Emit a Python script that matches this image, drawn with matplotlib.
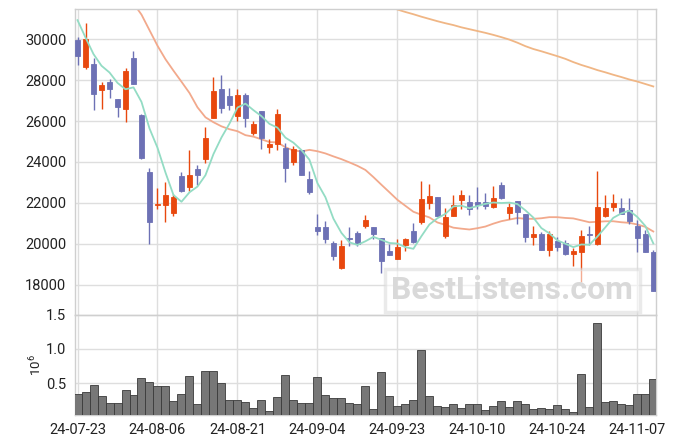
import numpy as np
import pandas as pd
import matplotlib
matplotlib.use("Agg")
import matplotlib.pyplot as plt

plt.rcParams['font.family'] = ['Roboto', 'DejaVu Sans']
plt.rcParams['mathtext.fontset'] = 'custom'
plt.rcParams['mathtext.rm'] = 'Roboto'
plt.rcParams['mathtext.it'] = 'Roboto'

# trading days (KRX), 24-07-23 .. 24-11-11
dates = pd.to_datetime([
    '2024-07-23', '2024-07-24', '2024-07-25', '2024-07-26', '2024-07-29', '2024-07-30', '2024-07-31',
    '2024-08-01', '2024-08-02', '2024-08-05', '2024-08-06', '2024-08-07', '2024-08-08', '2024-08-09',
    '2024-08-12', '2024-08-13', '2024-08-14', '2024-08-16', '2024-08-19', '2024-08-20', '2024-08-21',
    '2024-08-22', '2024-08-23', '2024-08-26', '2024-08-27', '2024-08-28', '2024-08-29', '2024-08-30',
    '2024-09-02', '2024-09-03', '2024-09-04', '2024-09-05', '2024-09-06', '2024-09-09', '2024-09-10',
    '2024-09-11', '2024-09-12', '2024-09-13', '2024-09-19', '2024-09-20', '2024-09-23', '2024-09-24',
    '2024-09-25', '2024-09-26', '2024-09-27', '2024-09-30', '2024-10-02', '2024-10-04', '2024-10-07',
    '2024-10-08', '2024-10-10', '2024-10-11', '2024-10-14', '2024-10-15', '2024-10-16', '2024-10-17',
    '2024-10-18', '2024-10-21', '2024-10-22', '2024-10-23', '2024-10-24', '2024-10-25', '2024-10-28',
    '2024-10-29', '2024-10-30', '2024-10-31', '2024-11-01', '2024-11-04', '2024-11-05', '2024-11-06',
    '2024-11-07', '2024-11-08', '2024-11-11'])

opens = [29980, 28620, 28780, 27500, 27900, 27070, 26570, 29070, 26310, 23510,
         21890, 21890, 21500, 23320, 22760, 23630, 24130, 26130, 27560, 27240,
         26230, 27270, 25400, 26490, 24720, 24860, 24680, 23980, 24590, 23170,
         20800, 20800, 20020, 18810, 20260, 20540, 20890, 20800, 20290, 19660,
         19240, 19950, 20630, 21040, 21980, 22290, 20370, 21380, 22130, 22050,
         22020, 22050, 21790, 22850, 21500, 22110, 21430, 20330, 20500, 19690,
         20110, 20020, 19500, 19590, 20460, 19970, 21350, 21790, 21770, 21640,
         20890, 20460, 19610]
highs = [30130, 30780, 29060, 27900, 28050, 27100, 28600, 29420, 26340, 23710,
         22730, 23020, 22440, 23510, 24590, 23850, 25710, 28150, 28230, 27610,
         27550, 27370, 26000, 26490, 25120, 26590, 24910, 24760, 24590, 23560,
         21460, 21120, 20150, 20180, 20800, 20620, 21420, 20830, 20290, 19970,
         20210, 20290, 21020, 23090, 22930, 22290, 21760, 22390, 22650, 22390,
         22760, 22490, 22830, 23040, 22000, 22110, 21430, 20850, 20570, 20630,
         20340, 20200, 19790, 20680, 20880, 23580, 22390, 22440, 22240, 22240,
         21170, 20650, 19710]
lows = [28730, 28540, 26540, 26590, 27120, 26200, 25950, 27790, 24130, 20000,
        21710, 21070, 21370, 22520, 22600, 22890, 23950, 26130, 26390, 26540,
        26000, 25690, 25300, 24630, 24440, 24590, 23040, 23850, 23350, 22420,
        20410, 20020, 19200, 18780, 19890, 19890, 20760, 20240, 18590, 19450,
        19240, 19660, 20050, 20960, 21720, 21380, 20290, 21350, 21720, 21420,
        21690, 21690, 21760, 22210, 21190, 20980, 20100, 19950, 19710, 19420,
        19640, 19430, 18930, 18130, 19950, 19920, 21320, 21590, 21430, 20980,
        19610, 19580, 17690]
closes = [29200, 30020, 27320, 27770, 27550, 26670, 28460, 27790, 24210, 21060,
          21950, 22390, 22290, 22570, 23370, 23350, 25170, 27460, 26620, 26760,
          27270, 26130, 25870, 25150, 24880, 26340, 23690, 24630, 23350, 22520,
          20620, 20240, 19400, 19870, 20210, 19980, 21140, 20470, 19140, 19450,
          19850, 20240, 20080, 22210, 22310, 21380, 21320, 21900, 22390, 21710,
          21890, 21850, 22240, 22260, 21810, 21550, 20330, 20460, 19710, 20500,
          19840, 19500, 19630, 20360, 20420, 21820, 21770, 21970, 21430, 21110,
          20280, 19580, 17690]
volumes = [0.338, 0.368, 0.470, 0.310, 0.206, 0.206, 0.397, 0.328, 0.574, 0.515,
           0.456, 0.456, 0.240, 0.338, 0.603, 0.191, 0.676, 0.676, 0.500, 0.255,
           0.255, 0.220, 0.132, 0.255, 0.088, 0.294, 0.618, 0.255, 0.206, 0.206,
           0.588, 0.328, 0.280, 0.280, 0.206, 0.191, 0.456, 0.118, 0.662, 0.309,
           0.162, 0.191, 0.250, 0.985, 0.309, 0.162, 0.147, 0.191, 0.132, 0.191,
           0.191, 0.103, 0.162, 0.235, 0.147, 0.235, 0.191, 0.118, 0.132, 0.118,
           0.176, 0.118, 0.074, 0.632, 0.147, 1.382, 0.220, 0.235, 0.191, 0.176,
           0.338, 0.338, 0.559]  # x 10^6

ma5 = [30930, 30080, 29270, 28700, 28371, 27863, 27551, 27646, 26933, 25636,
       24693, 23480, 22380, 22052, 22514, 22794, 23350, 24384, 25194, 25873,
       26657, 26849, 26530, 26237, 25860, 25675, 25187, 24940, 24579, 24107,
       22963, 22273, 21226, 20530, 20068, 19942, 20120, 20335, 20189, 20036,
       20010, 19831, 19753, 20367, 20940, 21245, 21460, 21824, 21860, 21740,
       21841, 21948, 22016, 21990, 22010, 21942, 21636, 21278, 20767, 20507,
       20166, 20000, 19834, 19964, 19948, 20345, 20800, 21268, 21483, 21619,
       21310, 20871, 20016]
ma20 = [np.nan] * 7 + [
    31750, 31200, 30440, 29680, 29020, 28460, 27920, 27370, 26670, 26180,
    25940, 25740, 25598, 25502, 25307, 25235, 25104, 24971, 24954, 24716,
    24558, 24515, 24589, 24522, 24415, 24270, 24135, 23977, 23809, 23607,
    23258, 22884, 22518, 22147, 21853, 21563, 21416, 21288, 21040, 20921,
    20785, 20737, 20696, 20759, 20840, 20982, 21102, 21181, 21259, 21219,
    21218, 21246, 21299, 21298, 21261, 21238, 21146, 21051, 21073, 21096,
    21099, 21051, 21021, 20941, 20827, 20599]
ma_long = [np.nan] * 39 + [
    31650, 31450, 31330, 31220, 31100, 30990, 30880, 30780, 30690, 30580,
    30490, 30400, 30310, 30210, 30100, 29980, 29830, 29660, 29520, 29410,
    29290, 29170, 29040, 28880, 28740, 28620, 28490, 28380, 28260, 28150,
    28030, 27930, 27810, 27690]

up_color = '#e8480e'
down_color = '#6d71b5'
grid_color = '#dedede'
text_color = '#222222'

x = np.arange(len(dates))
o = np.array(opens)
c = np.array(closes)
colors = [up_color if cc >= oo else down_color for oo, cc in zip(o, c)]

fig = plt.figure(figsize=(6.75, 4.44), dpi=100)
ax = fig.add_axes([0.1107, 0.2912, 0.8607, 0.6878])
axv = fig.add_axes([0.1107, 0.0653, 0.8607, 0.2259], sharex=ax)

# candles
ax.vlines(x, lows, highs, colors=colors, lw=1.0, zorder=3)
body_h = np.maximum(np.abs(c - o), 40)
ax.bar(x, body_h, bottom=np.minimum(o, c), width=0.6, color=colors,
       edgecolor=colors, lw=0.6, zorder=4)

ax.plot(x, ma5, color='#93dcc4', lw=1.3, zorder=5)
ax.plot(x, ma20, color='#f2a98c', lw=1.3, zorder=2)
ax.plot(x, ma_long, color='#f0b685', lw=1.3, zorder=2)

ax.set_xlim(-0.35, 72.3)
ax.set_ylim(16530, 31460)
ax.set_yticks(range(18000, 30001, 2000))

# volume
axv.bar(x, volumes, width=1.0, color='#777777', edgecolor='#3a3a3a', lw=0.6, zorder=3)
axv.set_ylim(0.034, 1.5)
axv.set_yticks([0.5, 1.0, 1.5])
axv.set_yticklabels(['0.5', '1.0', '1.5'])
axv.set_ylabel('$10^6$', fontsize=9.5, color=text_color, labelpad=1)

ticks = x[::10]
axv.set_xticks(ticks)
axv.set_xticklabels([d.strftime('%y-%m-%d') for d in dates[::10]])

for a in (ax, axv):
    a.grid(True, color=grid_color, lw=1.0, zorder=0)
    a.set_axisbelow(True)
    a.tick_params(length=0, labelsize=10.5, colors=text_color, pad=6)
    for s in a.spines.values():
        s.set_color('#cfcfcf')
        s.set_linewidth(1.0)
plt.setp(ax.get_xticklabels(), visible=False)

# watermark
fig.text(0.759, 0.346, 'BestListens.com', fontsize=23, fontweight='bold',
         color='#d9d9d9', ha='center', va='center', zorder=10,
         bbox=dict(boxstyle='square,pad=0.2', facecolor='white', alpha=0.55,
                   edgecolor='#d9d9d9', lw=2.5))

plt.savefig('out.png', dpi=100)
